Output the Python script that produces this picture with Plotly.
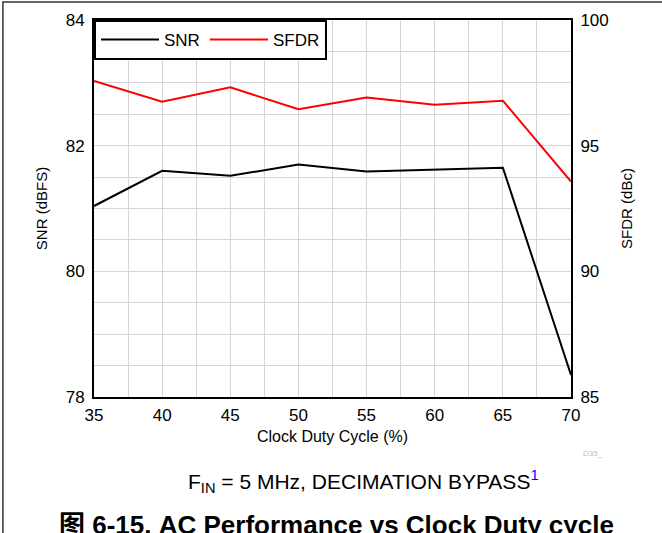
import plotly.graph_objects as go

duty_cycle = [35, 40, 45, 50, 55, 60, 65, 70]
snr = [81.04, 81.60, 81.52, 81.70, 81.59, 81.62, 81.65, 78.35]
sfdr = [97.57, 96.75, 97.32, 96.45, 96.92, 96.63, 96.79, 93.57]

FONT = 'Liberation Sans, Arial, sans-serif'
GRID = '#d6d6d6'

fig = go.Figure()
fig.add_trace(go.Scatter(x=duty_cycle, y=snr, name='SNR', mode='lines',
                         line=dict(color='black', width=2)))
fig.add_trace(go.Scatter(x=duty_cycle, y=sfdr, name='SFDR', mode='lines',
                         line=dict(color='#ff0000', width=2), yaxis='y2'))

fig.update_layout(
    width=662,
    height=533,
    margin=dict(l=94, r=91, t=20, b=136),
    paper_bgcolor='white',
    plot_bgcolor='white',
    font=dict(family=FONT, size=17, color='black'),
    showlegend=True,
    legend=dict(
        orientation='h', x=0, y=1, xanchor='left', yanchor='top',
        bgcolor='white', bordercolor='black', borderwidth=2,
        font=dict(size=17), itemwidth=58,
    ),
    xaxis=dict(
        range=[35, 70], dtick=5, tick0=35,
        showgrid=True, gridcolor=GRID, gridwidth=1,
        minor=dict(dtick=2.5, showgrid=True, gridcolor=GRID, gridwidth=1),
        showline=True, linecolor='black', linewidth=2, mirror=True,
        ticks='', zeroline=False, ticklabelstandoff=2,
        title=dict(text='Clock Duty Cycle (%)', font=dict(size=16), standoff=6),
    ),
    yaxis=dict(
        range=[78, 84], dtick=2, tick0=78,
        showgrid=True, gridcolor=GRID, gridwidth=1,
        minor=dict(dtick=0.5, showgrid=True, gridcolor=GRID, gridwidth=1),
        showline=True, linecolor='black', linewidth=2,
        ticks='', zeroline=False, ticklabelstandoff=4,
        title=dict(text='SNR (dBFS)', font=dict(size=15), standoff=14),
    ),
    yaxis2=dict(
        range=[85, 100], dtick=5, tick0=85,
        overlaying='y', side='right', showgrid=False,
        showline=True, linecolor='black', linewidth=2,
        ticks='', zeroline=False, ticklabelstandoff=4,
        title=dict(text='SFDR (dBc)', font=dict(size=15), standoff=14),
    ),
    annotations=[
        dict(text='D35_', x=1.046, y=-0.151, xref='paper', yref='paper',
             xanchor='center', yanchor='middle',
             showarrow=False, font=dict(size=8, color='#c0c0c0')),
        dict(text="F<sub>IN</sub> = 5 MHz, DECIMATION BYPASS<sup><span style='color:#0000ff'>1</span></sup>",
             x=0.564, y=-0.225, xref='paper', yref='paper',
             xanchor='center', yanchor='middle', showarrow=False,
             font=dict(size=21)),
        dict(text='<b>图 6-15. AC Performance vs Clock Duty cycle</b>',
             x=0.509, y=-0.34, xref='paper', yref='paper',
             xanchor='center', yanchor='middle', showarrow=False,
             font=dict(size=26, family='Liberation Sans, Noto Sans CJK SC')),
    ],
    shapes=[
        dict(type='rect', xref='paper', yref='paper',
             x0=-0.191, y0=-0.5, x1=1.3, y1=1.048,
             line=dict(color='#333333', width=1.5), layer='below'),
    ],
)

fig.write_html('out.html', config={'displayModeBar': False},
               post_script="document.body.style.margin='0';")
